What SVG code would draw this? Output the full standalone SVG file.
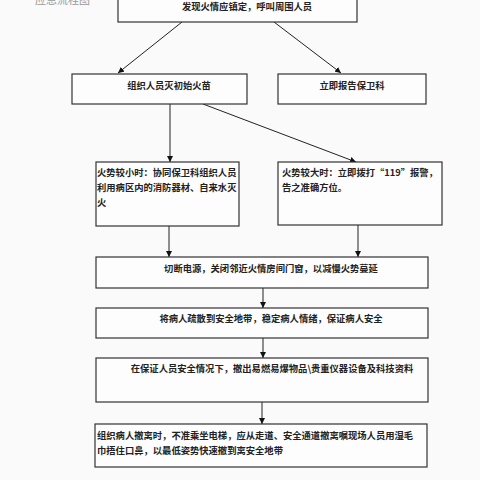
<svg xmlns="http://www.w3.org/2000/svg" width="480" height="480" viewBox="0 0 480 480">
<style>
.box{fill:#fdfdfd;stroke:#333;stroke-width:1.2}
.t{font-family:"Noto Sans CJK SC","Liberation Sans",sans-serif;font-size:9.3px;font-weight:bold;fill:#222}
.c{text-anchor:middle}
.ln{stroke:#222;stroke-width:1;fill:none;marker-end:url(#ah)}
</style>
<defs>
<marker id="ah" viewBox="0 0 10 10" refX="10" refY="5" markerWidth="6" markerHeight="6" markerUnits="userSpaceOnUse" orient="auto">
<path d="M0,0 L10,5 L0,10 z" fill="#111"/>
</marker>
</defs>
<rect width="480" height="480" fill="#fafafa"/>
<text x="35" y="4" font-family="'Noto Sans CJK SC',sans-serif" font-size="11px" fill="#999">应急流程图</text>
<g id="connectors">
<line class="ln" x1="182" y1="22" x2="118" y2="73"/>
<line class="ln" x1="274" y1="22" x2="341" y2="73"/>
<line class="ln" x1="170" y1="104" x2="170" y2="162"/>
<line class="ln" x1="203" y1="104" x2="356" y2="162"/>
<line class="ln" x1="169" y1="226" x2="169" y2="257"/>
<line class="ln" x1="358" y1="225" x2="358" y2="257"/>
<line class="ln" x1="263" y1="288" x2="263" y2="308"/>
<line class="ln" x1="263" y1="338" x2="263" y2="358"/>
<line class="ln" x1="262" y1="402" x2="262" y2="424"/>
</g>
<g id="n1"><rect class="box" x="118" y="-5" width="239" height="27"/><text class="t c" x="247" y="9.5">发现火情应镇定，呼叫周围人员</text></g>
<g id="n2"><rect class="box" x="72" y="74" width="175" height="30"/><text class="t c" x="169" y="89">组织人员灭初始火苗</text></g>
<g id="n3"><rect class="box" x="278" y="74" width="148" height="30"/><text class="t c" x="352" y="89">立即报告保卫科</text></g>
<g id="n4"><rect class="box" x="96" y="162" width="143" height="64"/>
<text class="t" x="97" y="176">火势较小时：协同保卫科组织人员</text>
<text class="t" x="97" y="191">利用病区内的消防器材、自来水灭</text>
<text class="t" x="97" y="206">火</text></g>
<g id="n5"><rect class="box" x="278" y="162" width="164" height="63"/>
<text class="t" x="282" y="176">火势较大时：立即拨打“119”报警，</text>
<text class="t" x="282" y="191">告之准确方位。</text></g>
<g id="n6"><rect class="box" x="96" y="257" width="332" height="31"/><text class="t c" x="271" y="272">切断电源，关闭邻近火情房间门窗，以减慢火势蔓延</text></g>
<g id="n7"><rect class="box" x="96" y="308" width="332" height="30"/><text class="t c" x="271" y="322">将病人疏散到安全地带，稳定病人情绪，保证病人安全</text></g>
<g id="n8"><rect class="box" x="96" y="358" width="332" height="44"/><text class="t c" x="272" y="372">在保证人员安全情况下，撤出易燃易爆物品\贵重仪器设备及科技资料</text></g>
<g id="n9"><rect class="box" x="95" y="424" width="332" height="43"/>
<text class="t" x="97" y="439">组织病人撤离时，不准乘坐电梯，应从走道、安全通道撤离嘱现场人员用湿毛</text>
<text class="t" x="97" y="454">巾捂住口鼻，以最低姿势快速撤到离安全地带</text></g>
</svg>
